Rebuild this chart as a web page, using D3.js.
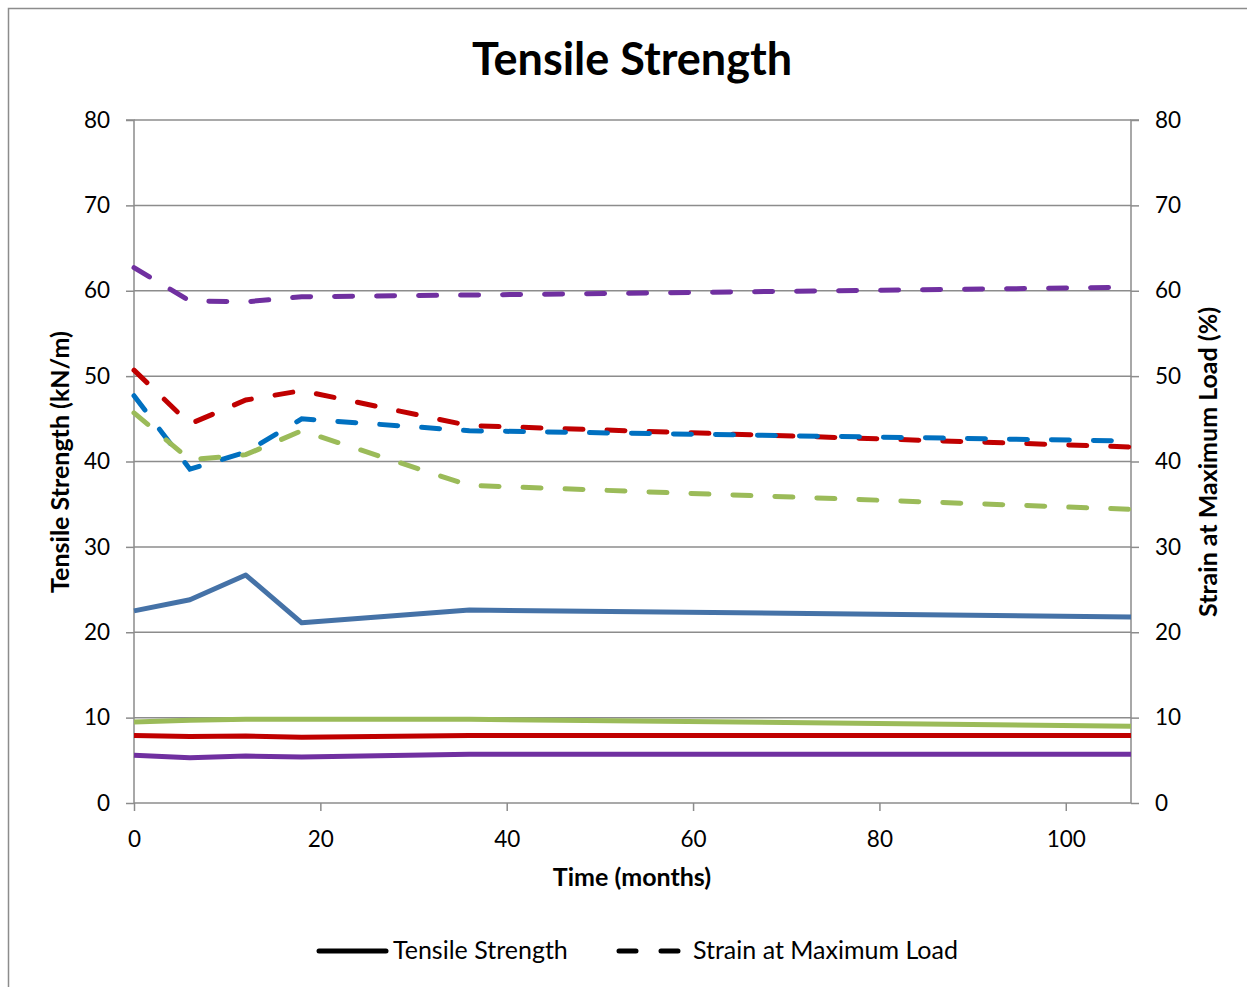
<!DOCTYPE html>
<html><head><meta charset="utf-8">
<script src="https://cdn.jsdelivr.net/npm/d3@7"></script>
<style>body{margin:0;background:#fff}svg{display:block}text{font-family:Lato,"Open Sans",sans-serif}</style>
</head><body><div id="c"></div>
<script>
const months = [0, 6, 12, 18, 36, 107];
const tsBlue   = [22.5, 23.8, 26.7, 21.1, 22.6, 21.8];
const tsRed    = [7.9, 7.8, 7.85, 7.7, 7.9, 7.9];
const tsGreen  = [9.5, 9.7, 9.8, 9.8, 9.8, 9.0];
const tsPurple = [5.6, 5.3, 5.5, 5.4, 5.7, 5.7];
const stBlue   = [47.7, 39.1, 41.1, 45.0, 43.6, 42.4];
const stRed    = [50.7, 44.4, 47.2, 48.3, 44.2, 41.7];
const stGreen  = [45.7, 40.2, 40.8, 43.6, 37.2, 34.4];
const stPurple = [62.7, 58.8, 58.7, 59.3, 59.5, 60.4];
const xTicks = [0, 20, 40, 60, 80, 100];
const yTicks = [0, 10, 20, 30, 40, 50, 60, 70, 80];

const W = 1247, H = 987;
const svg = d3.select("#c").append("svg").attr("width", W).attr("height", H);
svg.append("rect").attr("x", 8.5).attr("y", 8.5).attr("width", 1300).attr("height", 1100)
  .attr("fill", "none").attr("stroke", "#8c8c8c").attr("stroke-width", 1.5);

const x = d3.scaleLinear().domain([0, 107]).range([134, 1131]);
const yL = d3.scaleLinear().domain([0, 80]).range([803, 120]);
const yR = d3.scaleLinear().domain([0, 80]).range([803, 120]);

const grid = "#8c8c8c";
svg.append("g").selectAll("line").data(yTicks.filter(d => d > 0)).join("line")
  .attr("x1", x(0)).attr("x2", x(107)).attr("y1", d => yL(d)).attr("y2", d => yL(d))
  .attr("stroke", grid).attr("stroke-width", 1.5);

const axL = svg.append("g").attr("transform", `translate(${x(0)},0)`)
  .call(d3.axisLeft(yL).tickValues(yTicks).tickSize(8).tickPadding(16));
const axR = svg.append("g").attr("transform", `translate(${x(107)},0)`)
  .call(d3.axisRight(yR).tickValues(yTicks).tickSize(8).tickPadding(16));
const axB = svg.append("g").attr("transform", `translate(0,${yL(0)})`)
  .call(d3.axisBottom(x).tickValues(xTicks).tickSize(8).tickPadding(20));
[axL, axR, axB].forEach(a => {
  a.select(".domain").attr("stroke", grid).attr("stroke-width", 1.5);
  a.selectAll(".tick line").attr("stroke", grid).attr("stroke-width", 1.5);
  a.selectAll(".tick text").attr("font-size", 22.5).attr("fill", "#000")
    .style("font-family", "Lato, 'Open Sans', sans-serif");
});
axL.select(".domain").attr("d", `M-8,${yL(80)}H0V${yL(0)}`);
axR.select(".domain").attr("d", `M8,${yR(80)}H0V${yR(0)}`);
axB.select(".domain").attr("d", `M${x(0)},0H${x(107)}`);

const line = (ys, scale) => d3.line().x((d, i) => x(months[i])).y(d => scale(d))(ys);
const solid = [[tsBlue, "#4572A7"], [tsRed, "#C00000"], [tsGreen, "#9BBB59"], [tsPurple, "#7030A0"]];
const dashed = [[stPurple, "#7030A0"], [stRed, "#C00000"], [stBlue, "#0070C0"], [stGreen, "#9BBB59"]];
solid.forEach(([d, c]) => svg.append("path").attr("d", line(d, yL)).attr("fill", "none")
  .attr("stroke", c).attr("stroke-width", 5).attr("stroke-linejoin", "round"));
dashed.forEach(([d, c]) => svg.append("path").attr("d", line(d, yR)).attr("fill", "none")
  .attr("stroke", c).attr("stroke-width", 5).attr("stroke-linecap", "round")
  .attr("stroke-dasharray", "18,24"));

svg.append("text").attr("x", 632).attr("y", 75).attr("text-anchor", "middle")
  .attr("font-size", 45).attr("font-weight", "bold").text("Tensile Strength");
svg.append("text").attr("x", 632).attr("y", 886).attr("text-anchor", "middle")
  .attr("font-size", 25).attr("font-weight", "bold").text("Time (months)");
svg.append("text").attr("transform", `translate(69,462) rotate(-90)`).attr("text-anchor", "middle")
  .attr("font-size", 25).attr("font-weight", "bold").text("Tensile Strength (kN/m)");
svg.append("text").attr("transform", `translate(1217,462) rotate(-90)`).attr("text-anchor", "middle")
  .attr("font-size", 25).attr("font-weight", "bold").text("Strain at Maximum Load (%)");

svg.append("line").attr("x1", 319).attr("x2", 386).attr("y1", 951).attr("y2", 951)
  .attr("stroke", "#000").attr("stroke-width", 5).attr("stroke-linecap", "round");
svg.append("text").attr("x", 393).attr("y", 959).attr("font-size", 25).text("Tensile Strength");
svg.append("line").attr("x1", 619).attr("x2", 680).attr("y1", 951).attr("y2", 951)
  .attr("stroke", "#000").attr("stroke-width", 5).attr("stroke-linecap", "round")
  .attr("stroke-dasharray", "17,25");
svg.append("text").attr("x", 693).attr("y", 959).attr("font-size", 25).text("Strain at Maximum Load");
</script></body></html>
